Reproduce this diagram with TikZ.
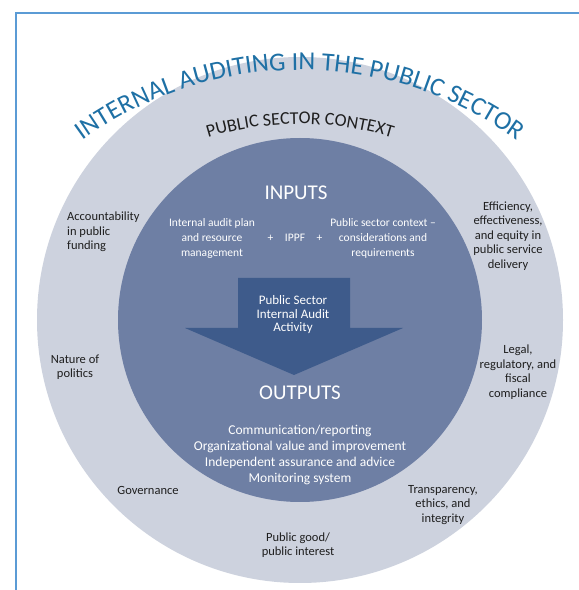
\documentclass[tikz,border=0pt]{standalone}
\usepackage{fontspec}
\setmainfont{Carlito}
\usetikzlibrary{decorations.text}
\definecolor{framebl}{RGB}{91,155,213}
\definecolor{ringgray}{RGB}{205,210,222}
\definecolor{coreblue}{RGB}{110,127,164}
\definecolor{arrowblue}{RGB}{62,91,139}
\definecolor{titleblue}{RGB}{30,112,165}
\definecolor{labelink}{RGB}{30,30,30}
\begin{document}
\begin{tikzpicture}[x=1pt,y=1pt,
  ctxlabel/.style={font=\fontsize{12.5}{14.5}\selectfont, text=labelink, align=center, inner sep=0pt},
  corelabel/.style={font=\fontsize{11.5}{15}\selectfont, text=white, align=center, inner sep=0pt},
  arrowlabel/.style={font=\fontsize{13}{13.5}\selectfont, text=white, align=center, inner sep=0pt},
  outlabel/.style={font=\fontsize{13.5}{16}\selectfont, text=white, align=center, inner sep=0pt},
  heading/.style={font=\fontsize{21}{21}\selectfont, text=white, inner sep=0pt},
]
\useasboundingbox (0,0) rectangle (579,590);
\fill[white] (0,0) rectangle (579,590);
% open frame along the left and top edges
\draw[framebl, line width=1.2pt] (16,0) -- (16,577) -- (579,577);

% context ring and core disc
\coordinate (ctr) at (300,270);
\fill[ringgray] (ctr) circle[radius=263];
\fill[coreblue] (ctr) circle[radius=182];

% curved headings
\coordinate (arcctr) at (300,150);
\path[decorate, decoration={text along path, text align=center,
  text={|\fontsize{26}{26}\selectfont\color{titleblue}|INTERNAL AUDITING IN THE PUBLIC SECTOR}}]
  (arcctr) ++(150:370) arc[start angle=150, end angle=30, radius=370];
\path[decorate, decoration={text along path, text align=center,
  text={|\fontsize{18}{18}\selectfont\color{labelink}|PUBLIC SECTOR CONTEXT}}]
  (arcctr) ++(130:316) arc[start angle=130, end angle=50, radius=316];

% activity arrow
\fill[arrowblue] (238,312) -- (350,312) -- (350,262) -- (403,262) -- (294,215)
  -- (185,262) -- (238,262) -- cycle;
\node[arrowlabel] (activity) at (293,275) {Public Sector\\Internal Audit\\Activity};

% inputs
\node[heading] (inputs) at (296,397) {INPUTS};
\node[corelabel] (plan) at (212,352) {Internal audit plan\\and resource\\management};
\node[corelabel] (ippf) at (295,352) {+\quad IPPF\quad +};
\node[corelabel] (pscontext) at (383,352) {Public sector context –\\considerations and\\requirements};

% outputs
\node[heading] (outputs) at (300,197) {OUTPUTS};
\node[outlabel] (outlist) at (300,135) {Communication/reporting\\Organizational value and improvement\\Independent assurance and advice\\Monitoring system};

% context factors
\node[ctxlabel, align=left, anchor=west] (account) at (67,358) {Accountability\\in public\\funding};
\node[ctxlabel] (politics) at (75,223) {Nature of\\politics};
\node[ctxlabel] (governance) at (148,100) {Governance};
\node[ctxlabel] (publicgood) at (298,45) {Public good/\\public interest};
\node[ctxlabel] (transparency) at (443,85) {Transparency,\\ethics, and\\integrity};
\node[ctxlabel] (legal) at (518,218) {Legal,\\regulatory, and\\fiscal\\compliance};
\node[ctxlabel] (efficiency) at (508,354) {Efficiency,\\effectiveness,\\and equity in\\public service\\delivery};
\end{tikzpicture}
\end{document}
